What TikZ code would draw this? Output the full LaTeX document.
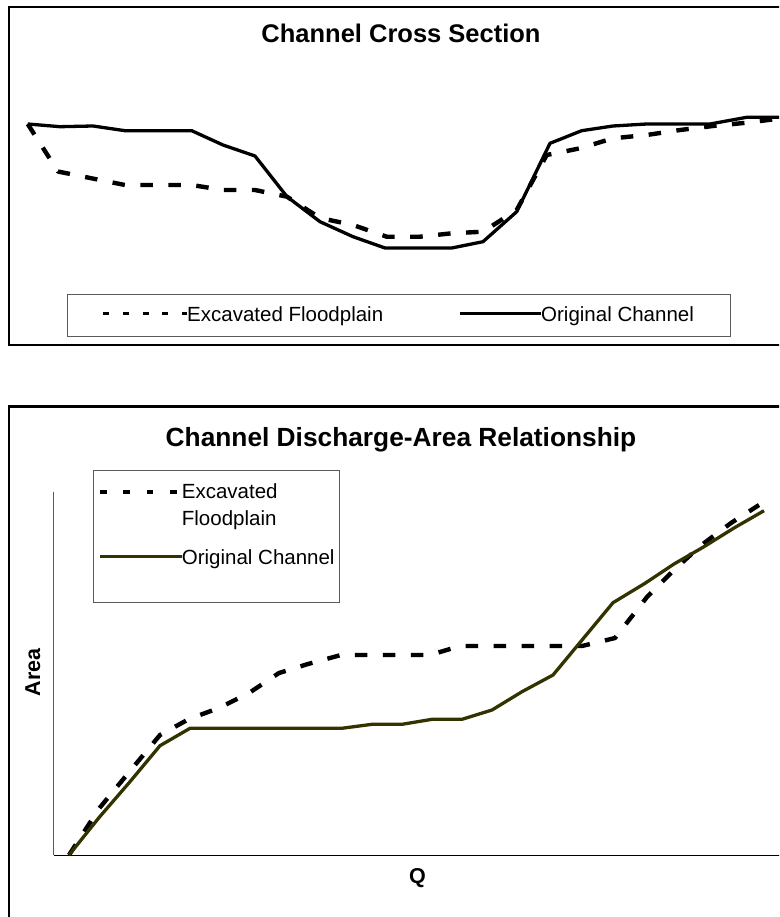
\documentclass[tikz,border=0pt]{standalone}
\usepackage{fontspec}
\setmainfont{Liberation Sans}
\definecolor{origcol}{RGB}{51,51,0}
\definecolor{boxgray}{RGB}{90,90,90}
\tikzset{
  panelframe/.style={draw=black, line width=2.6pt},
  legframe/.style={draw=boxgray, line width=1pt, inner sep=0pt},
  titletext/.style={font=\fontsize{25.5}{30}\selectfont\bfseries, inner sep=0pt, anchor=base},
  axistext/.style={font=\fontsize{21.5}{26}\selectfont\bfseries, inner sep=0pt, anchor=base},
  legtext/.style={font=\fontsize{20.5}{24}\selectfont, inner sep=0pt, anchor=base west},
  solidcurve/.style={line width=3.3pt, line join=round},
  dashcurve/.style={line width=4.4pt, dash pattern=on 12.5pt off 15.5pt, line join=round},
  legdashA/.style={line width=3.5pt, dash pattern=on 6pt off 13.75pt},
  legdashB/.style={line width=4pt, dash pattern=on 6.7pt off 16.6pt},
  legsolid/.style={line width=3.5pt},
  axisline/.style={line width=1pt},
}
\begin{document}
\begin{tikzpicture}[x=1pt,y=-1pt]
\useasboundingbox (0,0) rectangle (779,917);
\clip (0,0) rectangle (779,917);
\fill[white] (0,0) rectangle (779,917);

% ---------------- top panel ----------------
\draw[panelframe] (9,7) rectangle (795,345);
\node[titletext] (title1) at (401,43) {Channel Cross Section};

\draw[dashcurve] (27.7,124) -- (58,171.5) -- (90,178) -- (125,185) -- (158,185) -- (191.7,185)
  -- (223,190) -- (255,190) -- (287,196.7) -- (320,218) -- (353,225) -- (386.7,236.7)
  -- (420,236.7) -- (451.7,233.3) -- (483,231.7) -- (516.7,210) -- (546.7,155)
  -- (580,148.3) -- (613,138.3) -- (646.7,135) -- (680,130) -- (713,126)
  -- (746.7,122.7) -- (782,118.3);

\draw[solidcurve] (27.7,124) -- (60,126.7) -- (93,126) -- (125,130.7) -- (158,130.7)
  -- (191.7,130.7) -- (223,145) -- (255,156) -- (287,196.7) -- (320,221.7)
  -- (353,236.7) -- (385,248) -- (420,248) -- (451.7,248) -- (483,241.7)
  -- (516.7,211.7) -- (550,143.3) -- (581.7,130.7) -- (613,126) -- (646.7,124)
  -- (680,124) -- (710,124) -- (746.7,117.3) -- (782,117.3);

\node[legframe, minimum width=662.5pt, minimum height=41.5pt] (leg1) at (398.75,315.25) {};
\node[legtext] (leg1a) at (187,321.5) {Excavated Floodplain};
\node[legtext] (leg1b) at (541,321.5) {Original Channel};
\coordinate (leg1as) at (103,313.7);
\coordinate (leg1bs) at (460,313.7);
\draw[legdashA] (leg1as) -- (leg1as -| leg1a.west);
\draw[legsolid] (leg1bs) -- (leg1bs -| leg1b.west);

% ---------------- bottom panel ----------------
\draw[panelframe] (9,406.5) rectangle (795,940);
\node[titletext, font=\fontsize{26.3}{30}\selectfont\bfseries] (title2) at (401,446) {Channel Discharge-Area Relationship};

\coordinate (yaxtop) at (53.5,491.5);
\coordinate (origin) at (53.5,855);
\coordinate (xaxend) at (790,855);
\draw[axisline, draw=boxgray] (yaxtop) -- (origin);
\draw[axisline] (origin) -- (xaxend);

\node[axistext] (qlabel) at (417.5,883) {Q};
\node[axistext, rotate=90] (alabel) at (40,672.5) {Area};

\draw[dashcurve] (69,855) -- (99.5,808) -- (130,771) -- (160,735) -- (189,719) -- (219,708)
  -- (249,693) -- (279,673) -- (308,664) -- (341,655) -- (371,655) -- (400.5,655)
  -- (430,655) -- (460,646) -- (490,646) -- (520,646) -- (550,646) -- (582,646)
  -- (615,638) -- (647,597) -- (674,570) -- (701.5,545) -- (731,523) -- (759,505);

\draw[solidcurve, draw=origcol] (69,855) -- (99.5,817) -- (130,781.7) -- (160,745.7)
  -- (190,728.3) -- (220,728.3) -- (250,728.3) -- (280,728.3) -- (311,728.3)
  -- (341.7,728.3) -- (372,724.3) -- (402,724.3) -- (432,719.3) -- (462,719.3)
  -- (492,710) -- (522,691.7) -- (553,675) -- (613,602.7) -- (645,583.3)
  -- (674,564) -- (704,546.7) -- (734,528) -- (764,510.7);

\node[legframe, minimum width=246pt, minimum height=132pt] (leg2) at (216.3,536.7) {};
\node[legtext] (leg2a) at (181.7,498.5) {Excavated};
\node[legtext] (leg2c) at (181.7,525.5) {Floodplain};
\node[legtext] (leg2b) at (181.7,564) {Original Channel};
\coordinate (leg2as) at (100,491.7);
\coordinate (leg2bs) at (100,556.7);
\draw[legdashB] (leg2as) -- (leg2as -| leg2a.west);
\draw[legsolid, draw=origcol] (leg2bs) -- (leg2bs -| leg2b.west);
\end{tikzpicture}
\end{document}
